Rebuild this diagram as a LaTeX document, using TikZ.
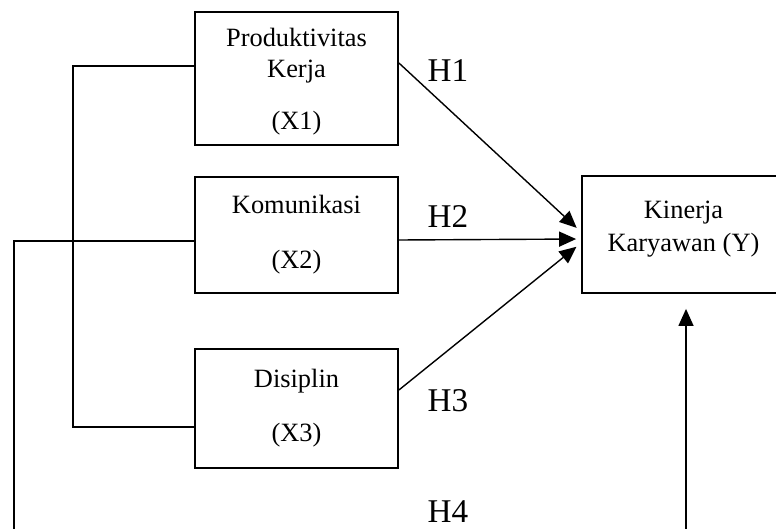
\documentclass[tikz,border=0pt]{standalone}
\usepackage{fontspec}
\setmainfont{Liberation Serif}
\usetikzlibrary{arrows.meta}
\begin{document}
\begin{tikzpicture}[x=0.5pt, y=-0.5pt,
    box/.style={draw, line width=0.9pt, rectangle, minimum width=101.5pt, align=center, inner sep=0pt, font=\fontsize{13.2}{15.5}\selectfont},
    hyp/.style={inner sep=0pt, font=\fontsize{16.6}{20}\selectfont},
    link/.style={line width=0.7pt},
    arr/.style={-{Triangle[length=8.5pt, width=7.5pt]}, line width=0.7pt}]
      \useasboundingbox (0,0) rectangle (776,529);
      \clip (0,0) rectangle (776,529);

      \node[box, minimum height=66.5pt, text depth=-2pt] (x1) at (296.5,78.5) {Produktivitas\\Kerja\\[10.5pt](X1)};
      \node[box, minimum height=58pt] (x2) at (296.5,235) {Komunikasi\\[12pt](X2)};
      \node[box, minimum height=59.5pt] (x3) at (296.5,408.5) {Disiplin\\[11.5pt](X3)};
      \node[box, minimum height=58.5pt, text depth=8pt, font=\fontsize{13.2}{16.5}\selectfont] (ky) at (683.5,234.5) {Kinerja\\Karyawan (Y)};

      \node[hyp] (h1) at (448,71) {H1};
      \node[hyp] (h2) at (448,217) {H2};
      \node[hyp] (h3) at (448,401) {H3};
      \node[hyp] (h4) at (448,512) {H4};

      \coordinate (h4a) at (14,540);
      \coordinate (h4b) at (686,540);

      \draw[arr, shorten >=3pt] (x1.east |- 0,63) -- (ky.west |- 0,232);
      \draw[arr, shorten >=2.5pt] (x2.east |- 0,240) -- (ky.west |- 0,239);
      \draw[arr, shorten >=3pt] (x3.east |- 0,390) -- (ky.west |- 0,243);
      \draw[link] (x1.west |- 0,66) -| (73,427) -- (x3.west |- 0,427);
      \draw[link] (h4a) |- (x2.west |- 0,241);
      \draw[arr, shorten >=7.5pt] (h4b) -- (h4b |- ky.south);
    \end{tikzpicture}
\end{document}
